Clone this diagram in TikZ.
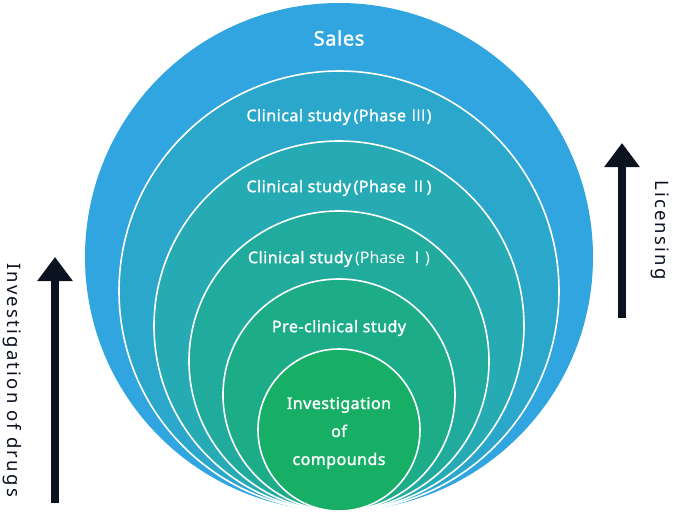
\documentclass[tikz,border=0pt]{standalone}
\usepackage{fontspec}
\setmainfont{Noto Sans}
\newfontfamily\cjk{Noto Sans CJK JP}
\newfontfamily\labelfont[FakeBold=1.6,LetterSpace=3]{Noto Sans}
\newfontfamily\sidefont[LetterSpace=12]{Noto Sans}
\usetikzlibrary{arrows.meta}

\definecolor{salesblue}{HTML}{30A5E0}
\definecolor{phasethree}{HTML}{2AA7CB}
\definecolor{phasetwo}{HTML}{26AAB3}
\definecolor{phaseone}{HTML}{21AB9C}
\definecolor{preclin}{HTML}{1CAC88}
\definecolor{compound}{HTML}{17AE66}
\definecolor{arrowink}{HTML}{0B1220}

\tikzset{
  ring/.style={draw=white,line width=1.6pt},
  stage/.style={text=white,font=\labelfont\fontsize{16}{17}\selectfont,inner sep=0pt},
  sidetext/.style={text=arrowink,font=\sidefont\fontsize{18.5}{20}\selectfont,rotate=-90,inner sep=0pt},
  uparrow/.style={-{Triangle[width=34pt,length=24pt]},line width=8pt,arrowink}
}

\begin{document}
\begin{tikzpicture}[x=1pt,y=-1pt]
    \useasboundingbox (0,0) rectangle (673,514);

    % nested stages, all touching at the bottom
    \fill[salesblue] (339,257) circle (254);
    \filldraw[ring,fill=phasethree] (339,291) circle (220);
    \filldraw[ring,fill=phasetwo] (339,326) circle (185);
    \filldraw[ring,fill=phaseone] (339,361) circle (150);
    \filldraw[ring,fill=preclin] (339,395) circle (116);
    \filldraw[ring,fill=compound] (339,430) circle (81);

    \node[stage,font=\labelfont\fontsize{20}{22}\selectfont] (sales) at (339,38) {Sales};
    \node[stage] (p3) at (339,117) {Clinical study\,(Phase {\cjk Ⅲ})};
    \node[stage] (p2) at (339,188) {Clinical study\,(Phase {\cjk Ⅱ})};
    \node[stage] (p1) at (339,259) {Clinical study\,{\normalfont\fontsize{16}{17}\selectfont(Phase {\cjk Ⅰ})}};
    \node[stage] (pre) at (339,328) {Pre-clinical study};
    \node[stage,align=center,font=\labelfont\fontsize{16}{28}\selectfont] (comp) at (339,433) {Investigation\\of\\compounds};

    % side arrows
    \coordinate (drugsfoot) at (55,503);
    \coordinate (drugshead) at (55,257);
    \coordinate (licfoot) at (622,318);
    \coordinate (lichead) at (622,143);
    \draw[uparrow] (drugsfoot) -- (drugshead);
    \draw[uparrow] (licfoot) -- (lichead);

    \node[sidetext] (drugs) at (12,380) {Investigation of drugs};
    \node[sidetext] (lic) at (660,230) {Licensing};
\end{tikzpicture}
\end{document}
